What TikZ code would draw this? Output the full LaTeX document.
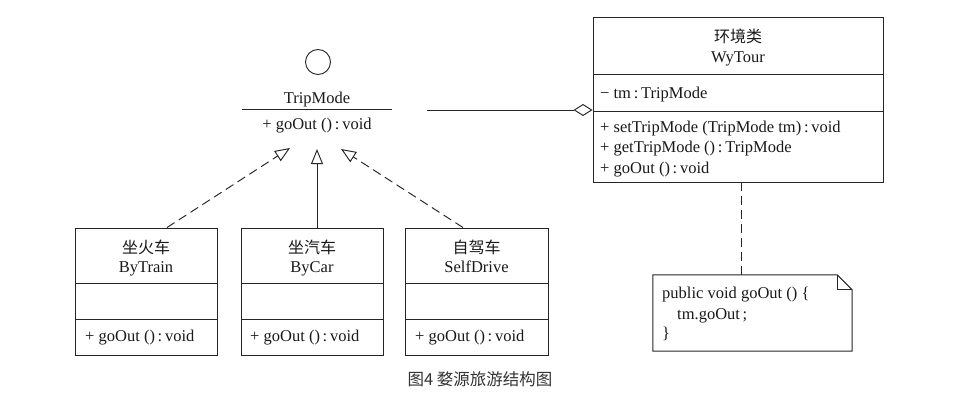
\documentclass[tikz,border=0pt]{standalone}
\usepackage{fontspec}
\setmainfont{Liberation Serif}
\newfontfamily\cjk{Noto Sans CJK SC}
\usetikzlibrary{arrows.meta}
\begin{document}
\begin{tikzpicture}[x=1pt,y=-1pt,
  ln/.style={draw=black!85, line width=0.95pt},
  boxx/.style={ln, rectangle, inner sep=0pt},
  txt/.style={font=\fontsize{16.5}{19}\selectfont, text=black!90, inner sep=0pt},
  ctx/.style={font=\cjk\fontsize{16}{19}\selectfont, text=black!90, inner sep=0pt},
  dsh/.style={ln, dash pattern=on 9pt off 5pt},
  realize/.style={dsh, -{Triangle[open, length=15pt, width=12pt, line width=0.95pt]}},
  inherit/.style={ln, -{Triangle[open, length=15pt, width=12pt, line width=0.95pt]}},
  aggr/.style={ln, -{Diamond[open, length=19pt, width=12pt, line width=0.95pt]}}
]
\useasboundingbox (0,0) rectangle (963,401);
\fill[white] (0,0) rectangle (963,401);

% ---------- interface TripMode ----------
\node[ln, circle, minimum size=25pt, inner sep=0pt] (tmc) at (318,62) {};
\node[txt, anchor=base] (tmname) at (317,103) {TripMode};
\coordinate (tml) at (242,109);
\coordinate (tmr) at (392,109);
\draw[ln] (tml) -- (tmr);
\node[txt, anchor=base] (tmop) at (317,130) {+ goOut ()\,:\,void};
\coordinate (tipL) at (290,148);
\coordinate (tipM) at (317,149);
\coordinate (tipR) at (341,149);

% ---------- WyTour ----------
\node[boxx, minimum width=290pt, minimum height=165pt] (wy) at (738,99.5) {};
\draw[ln] (593,74) -- (883,74);
\draw[ln] (593,111) -- (883,111);
\node[ctx, anchor=base] (wyc) at (738,43) {环境类};
\node[txt, anchor=base] (wyn) at (738,63) {WyTour};
\node[txt, anchor=base west] (wya) at (600,99) {\char"2212\ tm\,:\,TripMode};
\node[txt, anchor=base west] (wym1) at (600,132) {+ setTripMode (TripMode tm)\,:\,void};
\node[txt, anchor=base west] (wym2) at (600,153) {+ getTripMode ()\,:\,TripMode};
\node[txt, anchor=base west] (wym3) at (600,173) {+ goOut ()\,:\,void};

% aggregation
\coordinate (aggL) at (427,110);
\draw[aggr] (aggL) -- (aggL -| wy.west);

% ---------- note ----------
\node[minimum width=199pt, minimum height=76pt, inner sep=0pt] (note) at (752.5,313) {};
\draw[ln] (note.north west) -- ([xshift=-15pt]note.north east) -- ([yshift=-15pt]note.north east)
  -- (note.south east) -- (note.south west) -- cycle;
\draw[ln] ([xshift=-15pt]note.north east) -- ([xshift=-15pt,yshift=-15pt]note.north east)
  -- ([yshift=-15pt]note.north east);
\node[txt, anchor=base west] (n1) at (662,298) {public void goOut () \{};
\node[txt, anchor=base west] (n2) at (677,319) {tm.goOut\,;};
\node[txt, anchor=base west] (n3) at (662,338) {\}};
\draw[dsh] ([xshift=3pt]wy.south) -- ([xshift=3pt]wy.south |- note.north);

% ---------- ByTrain ----------
\node[boxx, minimum width=142pt, minimum height=127pt] (bt) at (146,291.5) {};
\draw[ln] (75,283) -- (217,283);
\draw[ln] (75,319) -- (217,319);
\node[ctx, anchor=base] (btc) at (146,253) {坐火车};
\node[txt, anchor=base] (btn) at (146,272) {ByTrain};
\node[txt, anchor=base west] (bto) at (85,341) {+ goOut ()\,:\,void};

% ---------- ByCar ----------
\node[boxx, minimum width=142pt, minimum height=127pt] (bc) at (312,291.5) {};
\draw[ln] (241,283) -- (383,283);
\draw[ln] (241,319) -- (383,319);
\node[ctx, anchor=base] (bcc) at (312,253) {坐汽车};
\node[txt, anchor=base] (bcn) at (312,272) {ByCar};
\node[txt, anchor=base west] (bco) at (250,341) {+ goOut ()\,:\,void};

% ---------- SelfDrive ----------
\node[boxx, minimum width=143pt, minimum height=127pt] (sd) at (476.5,291.5) {};
\draw[ln] (405,283) -- (548,283);
\draw[ln] (405,319) -- (548,319);
\node[ctx, anchor=base] (sdc) at (476.5,253) {自驾车};
\node[txt, anchor=base] (sdn) at (476.5,272) {SelfDrive};
\node[txt, anchor=base west] (sdo) at (415,341) {+ goOut ()\,:\,void};

% ---------- realizations ----------
\draw[realize] ([xshift=21pt]bt.north) -- (tipL);
\draw[inherit] (bc.north -| tipM) -- (tipM);
\draw[realize] ([xshift=-13.5pt]sd.north) -- (tipR);

% ---------- caption ----------
\node[font=\cjk\fontsize{16.5}{19}\selectfont, text=black!80, inner sep=0pt, anchor=base] (cap) at (480,385) {图4 婺源旅游结构图};
\end{tikzpicture}
\end{document}
